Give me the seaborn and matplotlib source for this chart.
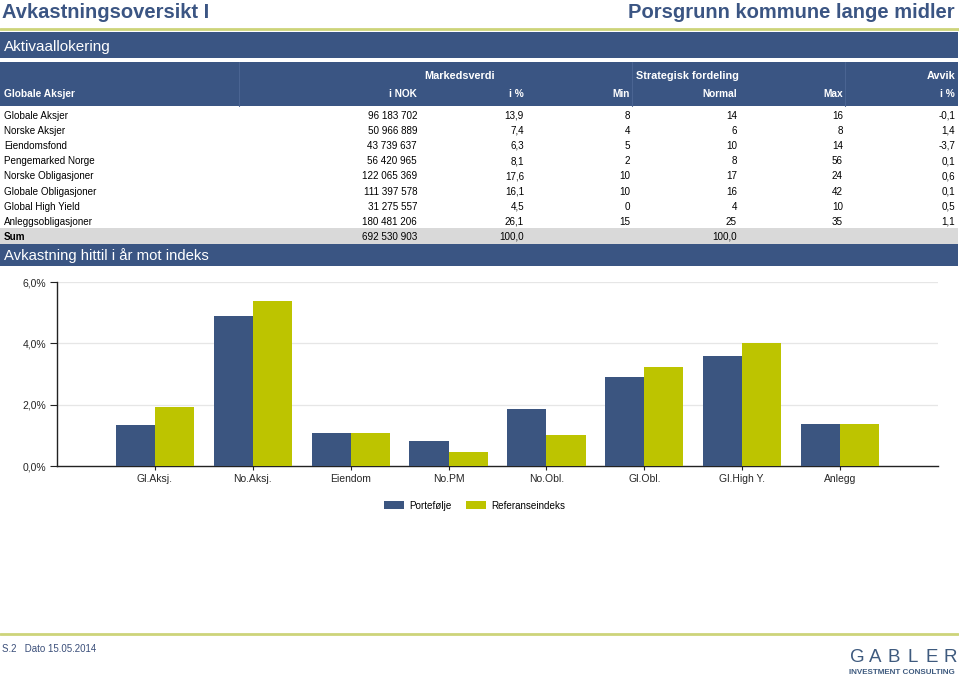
import matplotlib
matplotlib.use("Agg")
import matplotlib.pyplot as plt
from matplotlib.patches import Rectangle
import seaborn as sns
import pandas as pd

# ---------------- data ----------------
row_names = ["Globale Aksjer", "Norske Aksjer", "Eiendomsfond", "Pengemarked Norge",
             "Norske Obligasjoner", "Globale Obligasjoner", "Global High Yield",
             "Anleggsobligasjoner"]
nok_values = ["96 183 702", "50 966 889", "43 739 637", "56 420 965",
              "122 065 369", "111 397 578", "31 275 557", "180 481 206"]
pct_values = ["13,9", "7,4", "6,3", "8,1", "17,6", "16,1", "4,5", "26,1"]
min_values = ["8", "4", "5", "2", "10", "10", "0", "15"]
normal_values = ["14", "6", "10", "8", "17", "16", "4", "25"]
max_values = ["16", "8", "14", "56", "24", "42", "10", "35"]
avvik_values = ["-0,1", "1,4", "-3,7", "0,1", "0,6", "0,1", "0,5", "1,1"]
sum_nok = "692 530 903"
sum_pct = "100,0"
sum_normal = "100,0"

categories = ["Gl.Aksj.", "No.Aksj.", "Eiendom", "No.PM", "No.Obl.", "Gl.Obl.",
              "Gl.High Y.", "Anlegg"]
portefolje = [1.34, 4.89, 1.07, 0.82, 1.85, 2.91, 3.59, 1.36]
referanse = [1.93, 5.38, 1.07, 0.45, 1.00, 3.22, 4.01, 1.36]
series_names = ["Portefølje", "Referanseindeks"]
y_ticks = [0, 2, 4, 6]
y_ticklabels = ["0,0%", "2,0%", "4,0%", "6,0%"]

# ---------------- style ----------------
sns.set_theme(style="white")
plt.rcParams["font.family"] = ["Liberation Sans", "DejaVu Sans"]

BLUE = "#3A5583"
BAR_BLUE = "#3B5580"
GREEN = "#BDC400"
LINE_GREEN = "#CDD47A"
TITLE_BLUE = "#3B5583"

W, H = 959, 678
fig = plt.figure(figsize=(W / 100, H / 100), dpi=100)

# background axes in pixel coordinates
bg = fig.add_axes([0, 0, 1, 1])
bg.set_xlim(0, W)
bg.set_ylim(H, 0)
bg.axis("off")


def rect(x0, y0, x1, y1, color, z=1):
    bg.add_patch(Rectangle((x0, y0), x1 - x0, y1 - y0, facecolor=color,
                           edgecolor="none", zorder=z))


def txt(x, y, s, ha="left", size=7.1, color="black", weight="normal"):
    # y is the visual centre of capital letters; place on baseline
    cap = size * 1.389 * 0.72
    bg.text(x, y + cap / 2, s, ha=ha, va="baseline", fontsize=size, color=color,
            fontweight=weight, zorder=5)


# titles
txt(2, 11, "Avkastningsoversikt I", size=14.5, color=TITLE_BLUE, weight="bold")
txt(955, 11, "Porsgrunn kommune lange midler", ha="right", size=14.5,
    color=TITLE_BLUE, weight="bold")
bg.plot([0, W], [28.8, 28.8], color=LINE_GREEN, lw=2, zorder=2)

# banner
rect(0, 32, 958, 58, BLUE)
txt(4, 45, "Aktivaallokering", size=11, color="white")

# header block
rect(0, 62, 958, 106, BLUE)
for xs in [239, 632, 845]:
    bg.plot([xs, xs], [62, 106], color="#4A6492", lw=0.8, zorder=2)
hw = "bold"
hs = 7.8
txt(460, 75, "Markedsverdi", ha="center", size=hs, color="white", weight=hw)
txt(687, 75, "Strategisk fordeling", ha="center", size=hs, color="white", weight=hw)
txt(955, 75, "Avvik", ha="right", size=hs, color="white", weight=hw)
txt(4, 93, "Globale Aksjer", size=7.3, color="white", weight=hw)
txt(417, 93, "i NOK", ha="right", size=7.3, color="white", weight=hw)
txt(524, 93, "i %", ha="right", size=7.3, color="white", weight=hw)
txt(630, 93, "Min", ha="right", size=7.3, color="white", weight=hw)
txt(737, 93, "Normal", ha="right", size=7.3, color="white", weight=hw)
txt(843, 93, "Max", ha="right", size=7.3, color="white", weight=hw)
txt(955, 93, "i %", ha="right", size=7.3, color="white", weight=hw)

# data rows
for i, name in enumerate(row_names):
    y = 115 + 15.2 * i
    txt(4, y, name)
    txt(417, y, nok_values[i], ha="right")
    txt(524, y, pct_values[i], ha="right")
    txt(630, y, min_values[i], ha="right")
    txt(737, y, normal_values[i], ha="right")
    txt(843, y, max_values[i], ha="right")
    txt(955, y, avvik_values[i], ha="right")

# sum row
rect(0, 228, 958, 243.5, "#D9D9D9")
txt(4, 236, "Sum", weight="bold")
txt(417, 236, sum_nok, ha="right")
txt(524, 236, sum_pct, ha="right")
txt(737, 236, sum_normal, ha="right")

# second banner
rect(0, 244, 958, 266, BLUE)
txt(4, 255, "Avkastning hittil i år mot indeks", size=10.7, color="white")

# footer
bg.plot([0, 958], [634, 634], color=LINE_GREEN, lw=2, zorder=2)
txt(2, 648, "S.2   Dato 15.05.2014", size=7, color="#3B4F7A")
for i, letter in enumerate("GABLER"):
    txt(857 + 18.6 * i, 655, letter, ha="center", size=13.5, color="#3E5A7E")
txt(955, 671, "INVESTMENT CONSULTING", ha="right", size=5.8, color="#3E5A7E",
    weight="bold")

# ---------------- bar chart ----------------
ax_left, ax_right, ax_top, ax_bottom = 57, 938, 282, 466
ax = fig.add_axes([ax_left / W, (H - ax_bottom) / H,
                   (ax_right - ax_left) / W, (ax_bottom - ax_top) / H])
ax.patch.set_alpha(0)

df = pd.DataFrame({
    "Kategori": categories * 2,
    "Avkastning": portefolje + referanse,
    "Serie": [series_names[0]] * len(categories) + [series_names[1]] * len(categories),
})
sns.barplot(data=df, x="Kategori", y="Avkastning", hue="Serie",
            palette=[BAR_BLUE, GREEN], width=0.8, saturation=1,
            dodge=True, ax=ax, legend=False, zorder=3, linewidth=0,
            edgecolor="none")
ax.set_xlim(-1, len(categories))
ax.set_ylim(0, 6)
ax.set_yticks(y_ticks)
ax.set_yticklabels(y_ticklabels, fontsize=7.5)
ax.set_xticks(range(len(categories)))
ax.set_xticklabels(categories, fontsize=7.5)
ax.set_xlabel("")
ax.set_ylabel("")
for yv in y_ticks[1:]:
    ax.axhline(yv, color="#E6E6E6", lw=0.9, zorder=0)
for s in ["top", "right"]:
    ax.spines[s].set_visible(False)
for s in ["left", "bottom"]:
    ax.spines[s].set_color("#222222")
    ax.spines[s].set_linewidth(1.0)
ax.tick_params(axis="y", length=5, width=0.8, color="#222222", pad=3)
ax.tick_params(axis="x", length=3, width=0.8, color="#222222", pad=3, direction="out")
ax.tick_params(left=True, bottom=True)

# legend
rect(384, 501, 404, 509, BAR_BLUE)
txt(409, 505, series_names[0])
rect(466, 501, 486, 509, GREEN)
txt(491, 505, series_names[1])

fig.savefig("out.png", dpi=100)
